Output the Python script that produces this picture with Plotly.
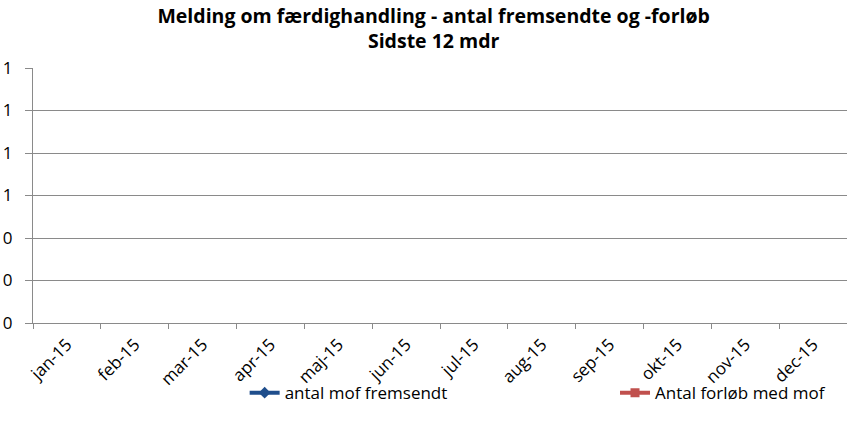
import plotly.graph_objects as go

# kategorier (måneder) og serier - ingen data i perioden
months = ["jan-15", "feb-15", "mar-15", "apr-15", "maj-15", "jun-15",
          "jul-15", "aug-15", "sep-15", "okt-15", "nov-15", "dec-15"]
antal_mof_fremsendt = [None] * 12
antal_forloeb_med_mof = [None] * 12

y_ticks = [0, 0.2, 0.4, 0.6, 0.8, 1.0, 1.2]

_FONT = dict(family="Open Sans, sans-serif", size=17, color="#000000")
_GRID = "#8a8a8a"

fig = go.Figure()
fig.add_trace(go.Scatter(
    x=months, y=antal_mof_fremsendt,
    name="antal mof fremsendt",
    mode="lines+markers",
    line=dict(color="#1F4E8C", width=4),
    marker=dict(symbol="diamond", size=9, color="#1F4E8C"),
    legend="legend",
))
fig.add_trace(go.Scatter(
    x=months, y=antal_forloeb_med_mof,
    name="Antal forløb med mof",
    mode="lines+markers",
    line=dict(color="#C0504D", width=4),
    marker=dict(symbol="square", size=9, color="#C0504D"),
    legend="legend2",
))

_leg = dict(orientation="h", yanchor="middle", y=-0.275, xanchor="left",
            font=dict(size=17), bgcolor="rgba(0,0,0,0)")

fig.update_layout(
    width=847, height=427,
    paper_bgcolor="white", plot_bgcolor="white",
    font=_FONT,
    title=dict(
        text="<b>Melding om færdighandling - antal fremsendte og -forløb</b><br><b>Sidste 12 mdr</b>",
        x=0.512, xanchor="center", yref="container", y=0.946, yanchor="middle",
        font=dict(size=19.5),
    ),
    margin=dict(l=33, r=0, t=68, b=104),
    showlegend=True,
    legend=dict(_leg, x=0.26),
    legend2=dict(_leg, x=0.715),
)

fig.update_xaxes(
    type="category", categoryorder="array", categoryarray=months,
    range=[-0.5, 11.5], tickangle=-45, tickson="boundaries",
    ticks="outside", ticklen=5, tickcolor=_GRID,
    showline=True, linecolor=_GRID, linewidth=1,
    showgrid=False, zeroline=False, automargin=False,
    ticklabelstandoff=4,
)
fig.update_yaxes(
    range=[0, 1.2], tickvals=y_ticks, tickformat=".0f",
    ticks="outside", ticklen=7, tickcolor=_GRID,
    showline=True, linecolor=_GRID, linewidth=1,
    showgrid=True, gridcolor=_GRID, gridwidth=1, zeroline=False,
    automargin=False, ticklabelstandoff=9,
)

fig.write_html("out.html", config={"displayModeBar": False},
               post_script="document.body.style.margin='0';")
